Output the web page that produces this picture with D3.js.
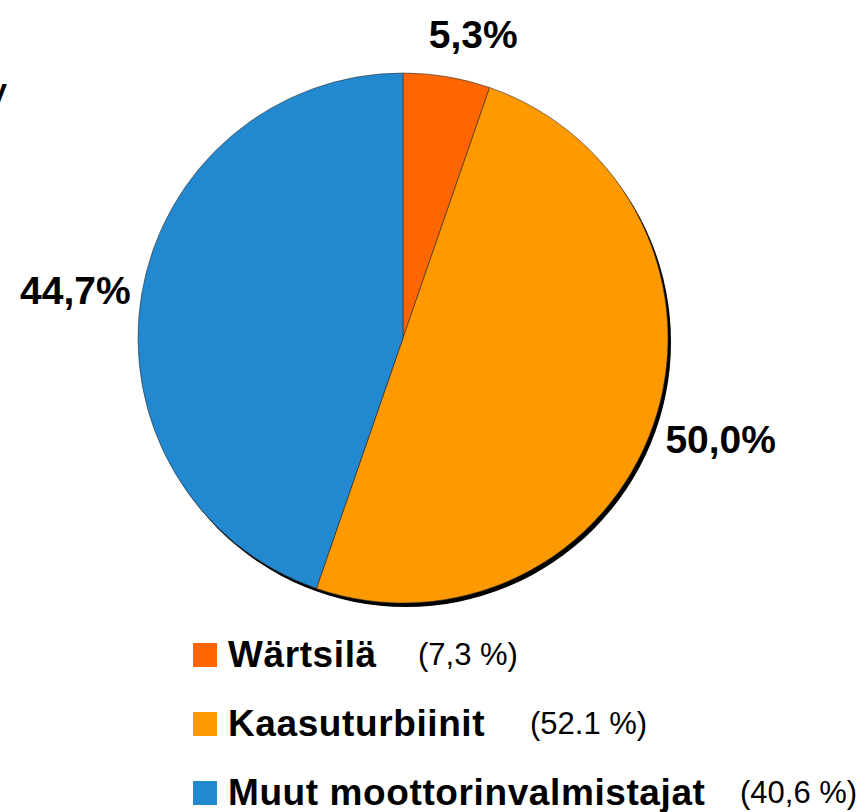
<!DOCTYPE html>
<html>
<head>
<meta charset="utf-8">
<script src="https://cdn.jsdelivr.net/npm/d3@7"></script>
<style>
  body { margin: 0; background: #fff; }
  svg { display: block; font-family: "Liberation Sans", Arial, sans-serif; }
</style>
</head>
<body>
<div id="chart"></div>
<script>
// data
var categories = ['Wärtsilä', 'Kaasuturbiinit', 'Muut moottorinvalmistajat'];
var shares = [5.3, 50.0, 44.7];
var shareLabels = ['5,3%', '50,0%', '44,7%'];
var legendNotes = ['(7,3 %)', '(52.1 %)', '(40,6 %)'];
var colors = ['#ff6600', '#ff9900', '#2288d0'];

var width = 865, height = 812;
var cx = 403, cy = 338, radius = 265;

var svg = d3.select('#chart')
    .append('svg')
    .attr('width', width)
    .attr('height', height);

// cut-off glyph at the left edge
svg.append('text')
    .attr('x', 7)
    .attr('y', 104)
    .attr('text-anchor', 'end')
    .style('font-size', '30px')
    .style('font-weight', 'bold')
    .text('V');

var pie = d3.pie().sort(null).value(d => d);
var arcs = pie(shares);
var arc = d3.arc().innerRadius(0).outerRadius(radius);

var g = svg.append('g').attr('transform', 'translate(' + cx + ',' + cy + ')');

// shadow
g.append('circle')
    .attr('cx', 3)
    .attr('cy', 4)
    .attr('r', radius)
    .attr('fill', '#000');

g.selectAll('.slice')
    .data(arcs)
    .join('path')
    .attr('class', 'slice')
    .attr('d', arc)
    .attr('fill', (d, i) => colors[i])
    .attr('stroke', '#333')
    .attr('stroke-width', 0.6);

// value labels outside the pie
var gap = 18;
var nudge = [[16, -3], [-2, 2], [6, 3]];
svg.append('g')
    .selectAll('text')
    .data(arcs)
    .join('text')
    .each(function(d, i) {
        var a = (d.startAngle + d.endAngle) / 2;
        var t = d3.select(this)
            .style('font-size', '39px')
            .style('font-weight', 'bold')
            .attr('text-anchor', 'middle')
            .attr('dominant-baseline', 'central')
            .text(shareLabels[i]);
        var bb = this.getBBox();
        var px = cx + (radius + gap) * Math.sin(a);
        var py = cy - (radius + gap) * Math.cos(a);
        t.attr('x', px + Math.sin(a) * bb.width / 2 + nudge[i][0])
         .attr('y', py - Math.cos(a) * bb.height * 0.5 + nudge[i][1]);
    });

// legend
var rowY = d3.scalePoint().domain(categories).range([643, 781]);
var notesX = [418, 530, 740];

var leg = svg.append('g')
    .selectAll('g')
    .data(categories)
    .join('g')
    .attr('transform', d => 'translate(193,' + rowY(d) + ')');

leg.append('rect')
    .attr('width', 24)
    .attr('height', 24)
    .attr('fill', (d, i) => colors[i]);

leg.append('text')
    .attr('x', 35)
    .attr('y', 24)
    .style('font-size', '37px')
    .style('font-weight', 'bold')
    .style('letter-spacing', '0.6px')
    .text(d => d);

leg.append('text')
    .attr('x', (d, i) => notesX[i] - 193)
    .attr('y', 22)
    .style('font-size', '31px')
    .text((d, i) => legendNotes[i]);
</script>
</body>
</html>
